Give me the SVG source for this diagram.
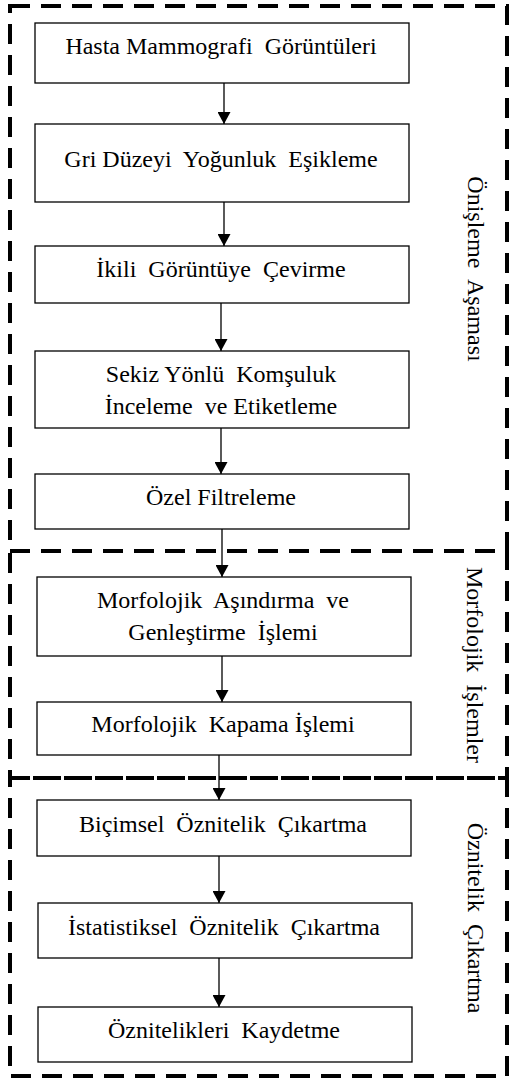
<svg xmlns="http://www.w3.org/2000/svg" width="510" height="1079" viewBox="0 0 510 1079">
<style>
.bg{fill:#fff}
.node rect{fill:#fff;stroke:#000;stroke-width:1.3}
text{font-size:24px;fill:#000;white-space:pre}
.node text{text-anchor:middle}
.stage{fill:none;stroke:#000;stroke-width:4;stroke-dasharray:20 11}
.edge{stroke:#000;stroke-width:1.3;fill:none;marker-end:url(#arr)}
.vlabel{text-anchor:middle}
</style>
<defs>
<marker id="arr" markerWidth="13" markerHeight="13" refX="12" refY="6.5" orient="auto" markerUnits="userSpaceOnUse">
<path d="M0,0 L12,6.5 L0,13 Z" fill="#000"/>
</marker>
</defs>
<rect class="bg" x="0" y="0" width="510" height="1079"/>
<g font-family="'Liberation Serif', 'DejaVu Serif', serif">
<g id="stages">
<rect class="stage" x="10" y="6" width="497" height="545"/>
<rect class="stage" x="10" y="551" width="497" height="227"/>
<rect class="stage" x="10" y="778" width="497" height="298"/>
<text class="vlabel" transform="translate(468,269) rotate(90)">Önişleme  Aşaması</text>
<text class="vlabel" transform="translate(467,665) rotate(90)">Morfolojik  İşlemler</text>
<text class="vlabel" transform="translate(468,918) rotate(90)">Öznitelik  Çıkartma</text>
</g>
<g id="connectors">
<line class="edge" x1="224" y1="83" x2="224" y2="124"/>
<line class="edge" x1="224" y1="202" x2="224" y2="246"/>
<line class="edge" x1="221" y1="303" x2="221" y2="351"/>
<line class="edge" x1="221" y1="428" x2="221" y2="474"/>
<line class="edge" x1="222" y1="529" x2="222" y2="577"/>
<line class="edge" x1="222" y1="656" x2="222" y2="702"/>
<line class="edge" x1="219" y1="755" x2="219" y2="800"/>
<line class="edge" x1="219" y1="856" x2="219" y2="903"/>
<line class="edge" x1="219" y1="958" x2="219" y2="1007"/>
</g>
<g id="n1" class="node"><rect x="35" y="23" width="374" height="60"/><text x="221" y="54">Hasta Mammografi  Görüntüleri</text></g>
<g id="n2" class="node"><rect x="35" y="124" width="374" height="78"/><text x="221" y="167">Gri Düzeyi  Yoğunluk  Eşikleme</text></g>
<g id="n3" class="node"><rect x="35" y="246" width="374" height="57"/><text x="221" y="277">İkili  Görüntüye  Çevirme</text></g>
<g id="n4" class="node"><rect x="35" y="351" width="374" height="77"/><text x="221" y="382">Sekiz Yönlü  Komşuluk</text><text x="221" y="414">İnceleme  ve Etiketleme</text></g>
<g id="n5" class="node"><rect x="35" y="474" width="374" height="55"/><text x="221" y="505">Özel Filtreleme</text></g>
<g id="n6" class="node"><rect x="37" y="577" width="374" height="79"/><text x="223" y="608">Morfolojik  Aşındırma  ve</text><text x="223" y="640">Genleştirme  İşlemi</text></g>
<g id="n7" class="node"><rect x="37" y="702" width="374" height="53"/><text x="223" y="732">Morfolojik  Kapama İşlemi</text></g>
<g id="n8" class="node"><rect x="37" y="800" width="374" height="56"/><text x="223" y="832">Biçimsel  Öznitelik  Çıkartma</text></g>
<g id="n9" class="node"><rect x="38" y="903" width="374" height="55"/><text x="224" y="935">İstatistiksel  Öznitelik  Çıkartma</text></g>
<g id="n10" class="node"><rect x="38" y="1007" width="374" height="55"/><text x="224" y="1038">Öznitelikleri  Kaydetme</text></g>
</g>
</svg>
